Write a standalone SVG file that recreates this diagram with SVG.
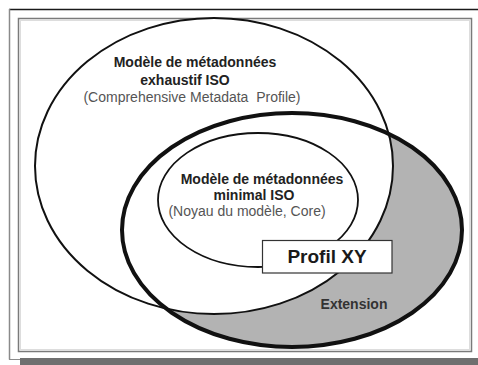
<svg xmlns="http://www.w3.org/2000/svg" width="478" height="365" viewBox="0 0 478 365">
<style>
.bold{font-family:"Liberation Sans",Arial,sans-serif;font-weight:bold;font-size:14px;fill:#222;text-anchor:middle}
.reg{font-family:"Liberation Sans",Arial,sans-serif;font-size:14px;fill:#555;text-anchor:middle}
.line{fill:none;stroke:#111}
</style>
<rect width="478" height="365" fill="#ffffff"/>
<g id="frame">
<line x1="9" y1="9.5" x2="478" y2="9.5" stroke="#1a1a1a" stroke-width="1.5"/>
<line x1="9.5" y1="9" x2="9.5" y2="359.5" stroke="#8a8a8a" stroke-width="1.5"/>
<line x1="9" y1="359.5" x2="20" y2="359.5" stroke="#8a8a8a" stroke-width="1"/>
<rect x="20" y="358" width="458" height="7" fill="#6f6f6f"/>
<rect x="18.5" y="18.5" width="453" height="333" fill="#ffffff" stroke="#7a7a7a" stroke-width="1.5"/>
<rect x="20.5" y="20.5" width="449" height="329" fill="none" stroke="#dddddd" stroke-width="1"/>
</g>
<g id="connectors"/>
<g id="extension-area">
<ellipse cx="292" cy="230" rx="170" ry="117" fill="#b3b3b3"/>
</g>
<g id="exhaustive-model">
<ellipse class="line" cx="214" cy="166" rx="179" ry="148" style="fill:#ffffff" stroke-width="2"/>
<text class="bold" x="195" y="67">Modèle de métadonnées</text>
<text class="bold" x="185" y="84.5">exhaustif ISO</text>
<text class="reg" x="192" y="102" xml:space="preserve">(Comprehensive Metadata  Profile)</text>
</g>
<g id="minimal-model">
<ellipse class="line" cx="258" cy="200" rx="100" ry="67" stroke-width="1.8"/>
<text class="bold" x="262" y="184">Modèle de métadonnées</text>
<text class="bold" x="254" y="200">minimal ISO</text>
<text class="reg" x="247" y="216">(Noyau du modèle, Core)</text>
</g>
<g id="profile-ellipse">
<ellipse class="line" cx="292" cy="230" rx="170" ry="117" stroke-width="4"/>
</g>
<g id="profil-xy">
<rect x="262.5" y="240.5" width="129.5" height="32.5" fill="#ffffff" stroke="#333" stroke-width="1.2"/>
<text x="327" y="263" style="font-family:'Liberation Sans',Arial,sans-serif;font-weight:bold;font-size:19px;fill:#1a1a1a;text-anchor:middle">Profil XY</text>
</g>
<g id="extension">
<text class="bold" x="354" y="309" style="fill:#333">Extension</text>
</g>
</svg>
